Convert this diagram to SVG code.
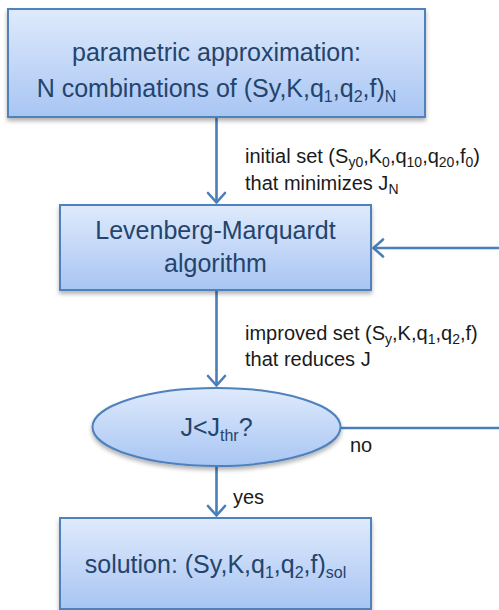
<svg xmlns="http://www.w3.org/2000/svg" width="499" height="610" viewBox="0 0 499 610">
<defs>
<linearGradient id="g" x1="0" y1="0" x2="0" y2="1">
<stop offset="0" stop-color="#dfeafc"/>
<stop offset="1" stop-color="#a8c5f3"/>
</linearGradient>
<filter id="sh" x="-10%" y="-10%" width="120%" height="130%">
<feDropShadow dx="0" dy="3" stdDeviation="2.2" flood-color="#000" flood-opacity="0.3"/>
</filter>
<marker id="ah" markerUnits="userSpaceOnUse" markerWidth="24" markerHeight="24" viewBox="-12 -12 24 24" refX="0" refY="0" orient="auto">
<path d="M-10,-8.5 L-0.5,0 L-10,8.5" fill="none" stroke="#4a7ebb" stroke-width="2.6" stroke-linecap="round" stroke-linejoin="round"/>
</marker>
</defs>
<style>
.box{fill:url(#g);stroke:#4f81bd;stroke-width:2;filter:url(#sh)}
.t{font-family:"Liberation Sans",Arial,sans-serif;font-size:25px;fill:#24446c;text-anchor:middle}
.l{font-family:"Liberation Sans",Arial,sans-serif;font-size:20px;fill:#1a1a1a}
.c{fill:none;stroke:#4a7ebb;stroke-width:2.6}
</style>
<g id="connectors">
<line class="c" x1="216.5" y1="118" x2="216.5" y2="203" marker-end="url(#ah)"/>
<line class="c" x1="499" y1="248" x2="373" y2="248" marker-end="url(#ah)"/>
<line class="c" x1="216.5" y1="291" x2="216.5" y2="386" marker-end="url(#ah)"/>
<line class="c" x1="341" y1="428" x2="499" y2="428"/>
<line class="c" x1="216.5" y1="467" x2="216.5" y2="516" marker-end="url(#ah)"/>
<text class="l" x="245" y="163">initial set (S<tspan font-size="14" dy="4">y0</tspan><tspan dy="-4">,K</tspan><tspan font-size="14" dy="4">0</tspan><tspan dy="-4">,q</tspan><tspan font-size="14" dy="4">10</tspan><tspan dy="-4">,q</tspan><tspan font-size="14" dy="4">20</tspan><tspan dy="-4">,f</tspan><tspan font-size="14" dy="4">0</tspan><tspan dy="-4">)</tspan></text>
<text class="l" x="245" y="190">that minimizes J<tspan font-size="14" dy="4">N</tspan></text>
<text class="l" x="245" y="340">improved set (S<tspan font-size="14" dy="4">y</tspan><tspan dy="-4">,K,q</tspan><tspan font-size="14" dy="4">1</tspan><tspan dy="-4">,q</tspan><tspan font-size="14" dy="4">2</tspan><tspan dy="-4">,f)</tspan></text>
<text class="l" x="245" y="366">that reduces J</text>
<text class="l" x="350" y="452">no</text>
<text class="l" x="233" y="504">yes</text>
</g>
<g id="node-param">
<rect class="box" x="8" y="9" width="417" height="108"/>
<text class="t" x="216.5" y="61">parametric approximation:</text>
<text class="t" x="216.5" y="97">N combinations of (Sy,K,q<tspan font-size="16" dy="5">1</tspan><tspan dy="-5">,q</tspan><tspan font-size="16" dy="5">2</tspan><tspan dy="-5">,f)</tspan><tspan font-size="16" dy="5">N</tspan></text>
</g>
<g id="node-lm">
<rect class="box" x="60" y="205" width="311" height="85"/>
<text class="t" x="215.5" y="239">Levenberg-Marquardt</text>
<text class="t" x="215.5" y="272">algorithm</text>
</g>
<g id="node-decision">
<ellipse class="box" cx="216.5" cy="427" rx="124" ry="39"/>
<text class="t" x="216.5" y="436">J&lt;J<tspan font-size="16" dy="5">thr</tspan><tspan dy="-5">?</tspan></text>
</g>
<g id="node-solution">
<rect class="box" x="60" y="518" width="311" height="91"/>
<text class="t" x="215.5" y="573">solution: (Sy,K,q<tspan font-size="16" dy="5">1</tspan><tspan dy="-5">,q</tspan><tspan font-size="16" dy="5">2</tspan><tspan dy="-5">,f)</tspan><tspan font-size="16" dy="5">sol</tspan></text>
</g>
</svg>
